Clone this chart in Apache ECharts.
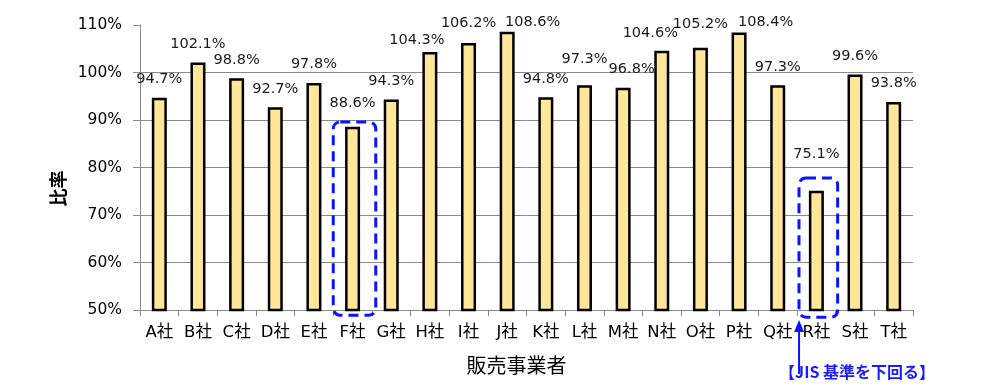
<!DOCTYPE html>
<html>
<head>
<meta charset="utf-8">
<script src="https://cdn.jsdelivr.net/npm/echarts@6/dist/echarts.min.js"></script>
<style>html,body{margin:0;padding:0;background:#fff;}#c{width:986px;height:386px;}</style>
</head>
<body>
<div id="c"></div>
<script>
const categories = ['A社','B社','C社','D社','E社','F社','G社','H社','I社','J社','K社','L社','M社','N社','O社','P社','Q社','R社','S社','T社'];
const ratios = [94.7,102.1,98.8,92.7,97.8,88.6,94.3,104.3,106.2,108.6,94.8,97.3,96.8,104.6,105.2,108.4,97.3,75.1,99.6,93.8];
const yMin = 50, yMax = 110, yStep = 10;
const yAxisName = '比率';
const xAxisName = '販売事業者';
const belowStandard = ['F社','R社'];
const noteText = '【JIS 基準を下回る】';

const FONT = '"Noto Sans CJK JP", "Noto Sans", sans-serif';
const NUMFONT = '"DejaVu Sans", "Noto Sans CJK JP", sans-serif';

// label nudges (dx, dy in px) to mimic the original's de-overlapped label placement
const labelNudge = {
  'F社': [0, -5], 'H社': [-13, 6.5], 'I社': [0, -2], 'J社': [25.5, 9], 'L社': [0, -7.5],
  'M社': [8.5, 0], 'N社': [-11.5, 1], 'O社': [0, -5], 'P社': [26.5, 8], 'R社': [0, -18]
};

const chart = echarts.init(document.getElementById('c'), null, {renderer:'canvas'});
const gridColors = [];
for (let v = yMin; v <= yMax; v += yStep) gridColors.push(v === yMax ? 'rgba(0,0,0,0)' : '#8a8a8a');

const barData = ratios.map((v, i) => {
  const n = labelNudge[categories[i]];
  return n ? {value: v, label: {offset: n}} : v;
});

chart.setOption({
  animation: false,
  backgroundColor: '#fff',
  grid: {left: 140, right: 73, top: 25, bottom: 76, containLabel: false},
  xAxis: {
    type: 'category', data: categories,
    name: xAxisName, nameLocation: 'middle', nameGap: 45,
    nameTextStyle: {fontFamily: FONT, fontSize: 20, color: '#000', padding: [0, 20, 0, 0]},
    axisLine: {lineStyle: {color: '#8a8a8a', width: 1}},
    axisTick: {show: true, length: 6, lineStyle: {color: '#8a8a8a'}},
    axisLabel: {fontFamily: NUMFONT, fontSize: 16.5, color: '#000', margin: 14, interval: 0}
  },
  yAxis: {
    type: 'value', min: yMin, max: yMax, interval: yStep,
    name: yAxisName, nameLocation: 'middle', nameGap: 72, nameRotate: 90,
    nameTextStyle: {fontFamily: FONT, fontSize: 18, fontWeight: 'bold', color: '#000', padding: [0, 42, 0, 0]},
    axisLine: {show: true, lineStyle: {color: '#8a8a8a', width: 1}},
    axisTick: {show: true, length: 7, lineStyle: {color: '#8a8a8a'}},
    axisLabel: {fontFamily: NUMFONT, fontSize: 15.5, color: '#000', margin: 18, formatter: v => v + '%'},
    splitLine: {show: true, lineStyle: {color: gridColors, width: 1}}
  },
  series: [{
    type: 'bar', data: barData, barWidth: 15,
    itemStyle: {color: '#FFE699', borderColor: '#000', borderWidth: 2.5},
    label: {show: true, position: 'top', distance: 11, fontFamily: NUMFONT, fontSize: 14.5, color: '#1a1a1a',
      formatter: p => p.value.toFixed(1) + '%'}
  }]
});

// annotations positioned through the chart's own scales
const px = (i, v) => chart.convertToPixel({xAxisIndex: 0, yAxisIndex: 0}, [i, v]);
const band = px(1, yMin)[0] - px(0, yMin)[0];
const graphics = [];
const boxSpec = {'F社': {top: 89.6, bottom: 48.9, dl: -0.5, dr: 0.6}, 'R社': {top: 77.8, bottom: 48.5, dl: -0.45, dr: 0.55}};
belowStandard.forEach(name => {
  const i = categories.indexOf(name);
  const s = boxSpec[name];
  const c = px(i, s.top);
  const b = px(i, s.bottom);
  const x0 = c[0] + s.dl * band, x1 = c[0] + s.dr * band;
  graphics.push({
    type: 'rect', silent: true, z: 100,
    shape: {x: x0, y: c[1], width: x1 - x0, height: b[1] - c[1], r: 7},
    style: {fill: null, stroke: '#0a14ff', lineWidth: 3, lineDash: [10, 6]}
  });
});
// arrow + note for the R box
const ri = categories.indexOf('R社');
const tip = px(ri, yMin);
const ax = tip[0] - 0.5 * band + 2;
const ay = tip[1] + 10;
graphics.push({type: 'line', silent: true, z: 100, shape: {x1: ax, y1: ay + 6, x2: ax, y2: ay + 54}, style: {stroke: '#0a14ff', lineWidth: 2}});
graphics.push({type: 'polygon', silent: true, z: 100, shape: {points: [[ax, ay], [ax - 5, ay + 12], [ax + 5, ay + 12]]}, style: {fill: '#0a14ff'}});
graphics.push({type: 'text', silent: true, z: 100, x: ax - 20, y: ay + 52,
  style: {text: noteText, fontFamily: FONT, fontSize: 16, fontWeight: 'bold', fill: '#1a1aff', textVerticalAlign: 'middle'}});
chart.setOption({graphic: graphics});
</script>
</body>
</html>
